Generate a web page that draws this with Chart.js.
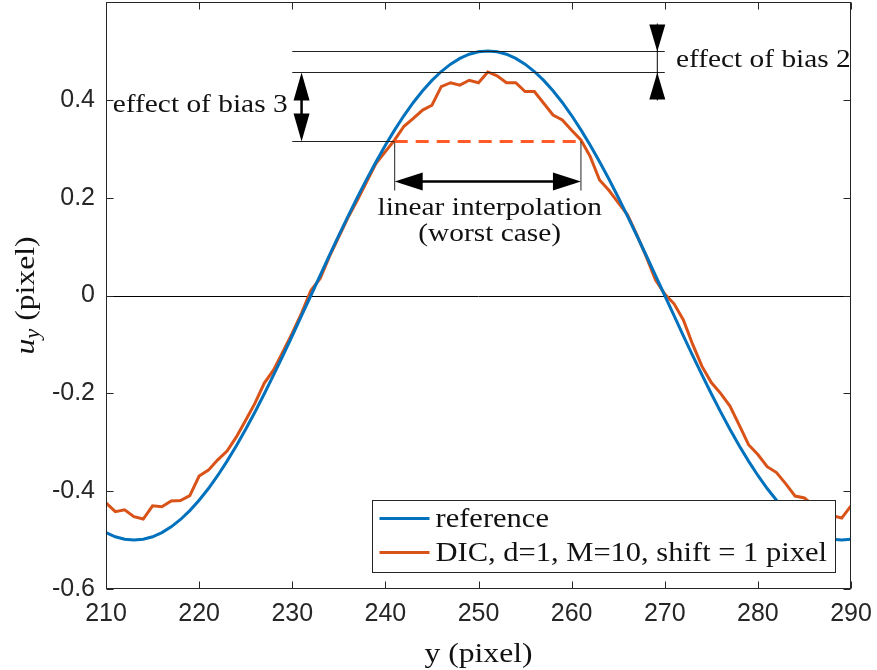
<!DOCTYPE html>
<html>
<head>
<meta charset="utf-8">
<script src="https://cdn.jsdelivr.net/npm/chart.js@4/dist/chart.umd.min.js"></script>
<style>
  body { margin: 0; background: #fff; }
  canvas { display: block; }
</style>
</head>
<body>
<canvas id="biasChart" width="877" height="670"></canvas>
<script>
// y position (pixel)
const positions = [
  210, 211, 212, 213, 214, 215, 216, 217, 218, 219,
  220, 221, 222, 223, 224, 225, 226, 227, 228, 229,
  230, 231, 232, 233, 234, 235, 236, 237, 238, 239,
  240, 241, 242, 243, 244, 245, 246, 247, 248, 249,
  250, 251, 252, 253, 254, 255, 256, 257, 258, 259,
  260, 261, 262, 263, 264, 265, 266, 267, 268, 269,
  270, 271, 272, 273, 274, 275, 276, 277, 278, 279,
  280, 281, 282, 283, 284, 285, 286, 287, 288, 289, 290
];

// reference displacement u_y
const reference = [
  -0.4847, -0.4932, -0.4983, -0.5, -0.4983, -0.4932, -0.4847, -0.4729, -0.4579, -0.4397,
  -0.4186, -0.3946, -0.3679, -0.3386, -0.3071, -0.2735, -0.2380, -0.2008, -0.1624, -0.1227,
  -0.0823, -0.0413, 0, 0.0413, 0.0823, 0.1227, 0.1624, 0.2008, 0.2380, 0.2735,
  0.3071, 0.3386, 0.3679, 0.3946, 0.4186, 0.4397, 0.4579, 0.4729, 0.4847, 0.4932,
  0.4983, 0.5, 0.4983, 0.4932, 0.4847, 0.4729, 0.4579, 0.4397, 0.4186, 0.3946,
  0.3679, 0.3386, 0.3071, 0.2735, 0.2380, 0.2008, 0.1624, 0.1227, 0.0823, 0.0413,
  0, -0.0413, -0.0823, -0.1227, -0.1624, -0.2008, -0.2380, -0.2735, -0.3071, -0.3386,
  -0.3679, -0.3946, -0.4186, -0.4397, -0.4579, -0.4729, -0.4847, -0.4932, -0.4983, -0.5, -0.4983
];

// DIC result, d=1, M=10, shift = 1 pixel
const dic = [
  -0.424, -0.442, -0.438, -0.452, -0.457, -0.430, -0.432, -0.420, -0.419, -0.409,
  -0.369, -0.357, -0.336, -0.318, -0.289, -0.255, -0.220, -0.179, -0.152, -0.115,
  -0.077, -0.036, 0.010, 0.035, 0.080, 0.120, 0.160, 0.195, 0.233, 0.270,
  0.294, 0.318, 0.346, 0.362, 0.379, 0.389, 0.427, 0.435, 0.430, 0.440,
  0.435, 0.457, 0.449, 0.435, 0.435, 0.417, 0.417, 0.393, 0.369, 0.359,
  0.338, 0.318, 0.284, 0.236, 0.215, 0.190, 0.165, 0.124, 0.080, 0.032,
  0.003, -0.017, -0.050, -0.100, -0.145, -0.178, -0.200, -0.226, -0.265, -0.305,
  -0.325, -0.350, -0.362, -0.385, -0.410, -0.414, -0.430, -0.440, -0.450, -0.455, -0.430
];

const xTicks = [210, 220, 230, 240, 250, 260, 270, 280, 290];
const yTicks = [-0.6, -0.4, -0.2, 0, 0.2, 0.4, 0.6];
const seriesLabels = ['reference', 'DIC, d=1, M=10, shift = 1 pixel'];

const BLUE = '#0072BD';
const ORANGE = '#D95319';
const SERIF = '"Liberation Serif", "Times New Roman", serif';
const SANS = '"Liberation Sans", Arial, Helvetica, sans-serif';
const STRETCH = 1.13; // the LaTeX font runs wider than Times

function seg(ctx, x1, y1, x2, y2) {
  ctx.beginPath();
  ctx.moveTo(x1, y1);
  ctx.lineTo(x2, y2);
  ctx.stroke();
}

// filled triangle, tip at (tx,ty), pointing along (dx,dy)
function head(ctx, tx, ty, dx, dy, len, half) {
  const bx = tx - dx * len, by = ty - dy * len;
  ctx.beginPath();
  ctx.moveTo(tx, ty);
  ctx.lineTo(bx - dy * half, by + dx * half);
  ctx.lineTo(bx + dy * half, by - dx * half);
  ctx.closePath();
  ctx.fill();
}

function label(ctx, str, x, y, align) {
  ctx.save();
  ctx.translate(x, y);
  ctx.scale(STRETCH, 1);
  ctx.textAlign = align;
  ctx.fillText(str, 0, 0);
  ctx.restore();
}

const annotations = {
  id: 'annotations',
  beforeDatasetsDraw(chart) {
    const { ctx, chartArea: a, scales: { y } } = chart;
    ctx.save();
    ctx.strokeStyle = '#000';
    ctx.lineWidth = 1;
    const y0 = Math.round(y.getPixelForValue(0)) + 0.5;
    seg(ctx, a.left, y0, a.right, y0);
    ctx.restore();
  },
  afterDatasetsDraw(chart) {
    const { ctx, chartArea: a, scales: { x, y } } = chart;
    const px = v => x.getPixelForValue(v);
    const py = v => Math.round(y.getPixelForValue(v)) + 0.5;
    ctx.save();

    // reference levels
    ctx.strokeStyle = '#222';
    ctx.lineWidth = 1;
    seg(ctx, px(230), py(0.5), px(270), py(0.5));
    seg(ctx, px(230), py(0.457), px(270), py(0.457));
    seg(ctx, px(230), py(0.3165), px(241), py(0.3165));
    seg(ctx, px(241), py(0.3165), px(241), py(0.2157));
    seg(ctx, px(261), py(0.3165), px(261), py(0.2157));

    // linear interpolation (dashed)
    ctx.strokeStyle = '#FF5A28';
    ctx.lineWidth = 3;
    ctx.setLineDash([13, 8]);
    seg(ctx, px(241), py(0.3165), px(261), py(0.3165));
    ctx.setLineDash([]);

    ctx.fillStyle = '#000';
    ctx.strokeStyle = '#000';

    // bias 3 arrow
    const b3x = px(231);
    ctx.lineWidth = 2.5;
    seg(ctx, b3x, py(0.457) + 20, b3x, py(0.3165) - 20);
    head(ctx, b3x, py(0.457), 0, -1, 28, 8);
    head(ctx, b3x, py(0.3165), 0, 1, 28, 8);

    // bias 2 arrows
    const b2x = px(269.2);
    ctx.lineWidth = 1;
    seg(ctx, b2x, py(0.558), b2x, py(0.40));
    head(ctx, b2x, py(0.5), 0, 1, 27, 8);
    head(ctx, b2x, py(0.457), 0, -1, 27, 8);

    // interpolation span arrow
    const iy = py(0.234);
    ctx.lineWidth = 2.5;
    seg(ctx, px(241) + 20, iy, px(261) - 20, iy);
    head(ctx, px(241), iy, -1, 0, 28, 9);
    head(ctx, px(261), iy, 1, 0, 28, 9);

    // texts
    ctx.font = '26px ' + SERIF;
    ctx.fillStyle = '#111';
    ctx.textBaseline = 'middle';
    label(ctx, 'effect of bias 3', px(229.5), y.getPixelForValue(0.39), 'right');
    label(ctx, 'effect of bias 2', px(271.2), y.getPixelForValue(0.482), 'left');
    label(ctx, 'linear interpolation', px(251.2), y.getPixelForValue(0.178), 'center');
    label(ctx, '(worst case)', px(251.2), y.getPixelForValue(0.126), 'center');

    // legend (southeast)
    const lw = 463, lh = 72;
    const lx = Math.round(a.right - 16 - lw) + 0.5;
    const ly = Math.round(a.bottom - 17 - lh) + 0.5;
    ctx.fillStyle = '#fff';
    ctx.fillRect(lx, ly, lw, lh);
    ctx.strokeStyle = '#262626';
    ctx.lineWidth = 1;
    ctx.strokeRect(lx, ly, lw, lh);
    const colors = [BLUE, ORANGE];
    ctx.font = '27px ' + SERIF;
    seriesLabels.forEach((lab, i) => {
      const ry = ly + 18 + i * 34;
      ctx.strokeStyle = colors[i];
      ctx.lineWidth = 3;
      seg(ctx, lx + 7, ry, lx + 57, ry);
      ctx.fillStyle = '#111';
      label(ctx, lab, lx + 63, ry + 1, 'left');
    });

    // box and inward ticks
    ctx.strokeStyle = '#262626';
    ctx.lineWidth = 1;
    const L = Math.round(a.left) + 0.5, R = Math.round(a.right) - 0.5;
    const T = Math.round(a.top) + 0.5, B = Math.round(a.bottom) - 0.5;
    ctx.strokeRect(L, T, R - L, B - T);
    const tl = 7;
    xTicks.forEach(v => {
      const tx = Math.round(px(v)) + 0.5;
      seg(ctx, tx, B, tx, B - tl);
      seg(ctx, tx, T, tx, T + tl);
    });
    yTicks.forEach(v => {
      const ty = py(v);
      seg(ctx, L, ty, L + tl, ty);
      seg(ctx, R, ty, R - tl, ty);
    });

    // axis titles
    ctx.fillStyle = '#111';
    ctx.font = '28px ' + SERIF;
    ctx.textBaseline = 'alphabetic';
    label(ctx, 'y (pixel)', (a.left + a.right) / 2, 662, 'center');

    ctx.translate(34, (a.top + a.bottom) / 2);
    ctx.rotate(-Math.PI / 2);
    ctx.scale(STRETCH, 1);
    const f1 = 'italic 28px ' + SERIF, f2 = 'italic 20px ' + SERIF, f3 = '28px ' + SERIF;
    ctx.font = f1; const w1 = ctx.measureText('u').width;
    ctx.font = f2; const w2 = ctx.measureText('y').width;
    ctx.font = f3; const w3 = ctx.measureText(' (pixel)').width;
    let cx = -(w1 + w2 + w3) / 2;
    ctx.textAlign = 'left';
    ctx.font = f1; ctx.fillText('u', cx, 0); cx += w1;
    ctx.font = f2; ctx.fillText('y', cx, 5); cx += w2;
    ctx.font = f3; ctx.fillText(' (pixel)', cx, 0);

    ctx.restore();
  }
};

new Chart(document.getElementById('biasChart').getContext('2d'), {
  type: 'line',
  data: {
    datasets: [
      {
        label: seriesLabels[0],
        data: positions.map((p, i) => ({ x: p, y: reference[i] })),
        borderColor: BLUE,
        borderWidth: 3,
        pointRadius: 0,
        fill: false,
        tension: 0
      },
      {
        label: seriesLabels[1],
        data: positions.map((p, i) => ({ x: p, y: dic[i] })),
        borderColor: ORANGE,
        borderWidth: 3,
        pointRadius: 0,
        fill: false,
        tension: 0
      }
    ]
  },
  options: {
    responsive: false,
    animation: false,
    devicePixelRatio: 1,
    layout: { padding: { top: 2, right: 26, left: 0, bottom: 0 } },
    plugins: {
      legend: { display: false },
      tooltip: { enabled: false }
    },
    scales: {
      x: {
        type: 'linear',
        min: 210,
        max: 290,
        afterFit: s => { s.height = 81; s.paddingLeft = 0; s.paddingRight = 0; },
        afterBuildTicks: s => { s.ticks = xTicks.map(v => ({ value: v })); },
        grid: { display: false, drawTicks: false },
        border: { display: false },
        ticks: {
          padding: 10,
          maxRotation: 0,
          autoSkip: false,
          color: '#262626',
          font: { family: SANS, size: 25 }
        }
      },
      y: {
        min: -0.6,
        max: 0.6,
        afterFit: s => { s.width = 106; s.paddingTop = 0; s.paddingBottom = 0; },
        afterBuildTicks: s => { s.ticks = yTicks.map(v => ({ value: v })); },
        grid: { display: false, drawTicks: false },
        border: { display: false },
        ticks: {
          padding: 11,
          color: '#262626',
          font: { family: SANS, size: 25 },
          callback: v => v > 0.55 ? '' : String(v)
        }
      }
    }
  },
  plugins: [annotations]
});
</script>
</body>
</html>
